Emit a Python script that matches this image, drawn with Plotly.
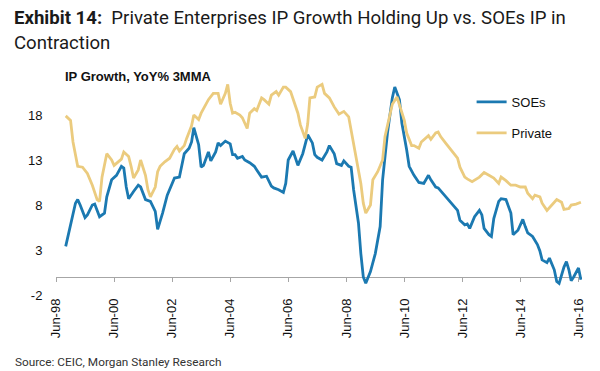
import plotly.graph_objects as go

# ---- data ----
soe_dates = ["1998-10","1998-12","1999-02","1999-03","1999-04","1999-06","1999-07","1999-09","1999-10","1999-11",
             "1999-12","2000-02","2000-03","2000-05","2000-07","2000-09","2000-10","2000-11","2000-12","2001-02",
             "2001-04","2001-05","2001-06","2001-07","2001-09","2001-11","2001-12","2002-02","2002-04","2002-06",
             "2002-07","2002-09","2002-10","2002-11","2003-01","2003-02","2003-03","2003-05","2003-06","2003-07",
             "2003-09","2003-10","2003-12","2004-01","2004-02","2004-04","2004-06","2004-07","2004-08","2004-09",
             "2004-11","2004-12","2005-02","2005-04","2005-05","2005-07","2005-09","2005-11","2005-12","2006-02",
             "2006-04","2006-05","2006-06","2006-08","2006-09","2006-10","2006-12","2007-01","2007-02","2007-04",
             "2007-05","2007-06","2007-08","2007-10","2007-11","2008-01","2008-02","2008-04","2008-05","2008-07",
             "2008-08","2008-09","2008-11","2008-12","2009-01","2009-02","2009-04","2009-06","2009-08","2009-09",
             "2009-11","2010-01","2010-02","2010-04","2010-05","2010-07","2010-08","2010-10","2010-12","2011-02",
             "2011-04","2011-05","2011-07","2011-08","2011-10","2011-12","2012-02","2012-04","2012-05","2012-07",
             "2012-08","2012-09","2012-11","2013-01","2013-02","2013-03","2013-05","2013-06","2013-07","2013-09",
             "2013-10","2013-12","2014-02","2014-03","2014-05","2014-07","2014-08","2014-09","2014-11","2015-01",
             "2015-02","2015-03","2015-05","2015-06","2015-08","2015-09","2015-10","2015-12","2016-01","2016-02",
             "2016-03","2016-04","2016-06","2016-07"]
soe_values = [3.4, 5.8, 8.2, 8.6, 8.0, 6.6, 6.9, 8.0, 8.1, 7.4,
              6.7, 7.1, 8.9, 10.8, 11.3, 12.3, 12.1, 10.0, 8.7, 9.5,
              10.2, 10.0, 9.2, 8.6, 8.4, 7.3, 5.3, 7.1, 9.1, 10.4,
              11.0, 11.1, 12.3, 13.7, 14.3, 15.0, 16.6, 14.7, 12.2, 12.4,
              13.9, 12.9, 13.9, 14.9, 14.6, 15.1, 14.8, 13.6, 13.6, 13.2,
              13.4, 13.0, 12.7, 12.3, 11.9, 11.1, 11.2, 10.1, 9.9, 9.7,
              9.4, 10.4, 13.0, 14.0, 13.2, 12.4, 13.7, 14.9, 15.8, 14.9,
              13.6, 13.3, 13.0, 13.9, 14.6, 13.7, 12.6, 12.4, 12.9, 12.3,
              12.2, 9.7, 6.0, 2.6, 0.0, -0.7, 0.6, 2.6, 5.6, 10.8,
              16.0, 19.9, 21.1, 19.7, 17.1, 14.1, 12.3, 11.3, 10.5, 10.4,
              11.3, 10.8, 10.0, 9.9, 9.3, 8.6, 8.0, 7.4, 6.3, 5.8,
              5.9, 5.4, 6.7, 7.4, 6.9, 5.4, 4.7, 4.5, 6.5, 8.4,
              8.7, 8.6, 7.1, 4.7, 5.2, 6.4, 5.6, 4.9, 4.5, 3.6,
              2.9, 1.9, 1.6, 2.1, 0.8, -0.5, -0.7, 1.1, 1.7, 0.8,
              -0.4, 0.0, 1.0, -0.3]

private_dates = ["1998-10","1998-12","1999-01","1999-02","1999-03","1999-05","1999-07","1999-09","1999-11","1999-12",
                 "2000-01","2000-03","2000-05","2000-06","2000-09","2000-10","2000-12","2001-01","2001-02","2001-04",
                 "2001-05","2001-07","2001-08","2001-09","2001-11","2001-12","2002-01","2002-03","2002-05","2002-07",
                 "2002-08","2002-09","2002-11","2002-12","2003-02","2003-03","2003-05","2003-06","2003-08","2003-09",
                 "2003-11","2004-01","2004-02","2004-04","2004-05","2004-06","2004-07","2004-08","2004-10","2004-11",
                 "2005-01","2005-02","2005-04","2005-05","2005-07","2005-08","2005-10","2005-11","2006-01","2006-02",
                 "2006-04","2006-05","2006-07","2006-08","2006-10","2006-11","2007-01","2007-02","2007-03","2007-05",
                 "2007-06","2007-08","2007-09","2007-11","2008-01","2008-03","2008-05","2008-07","2008-08","2008-10",
                 "2008-12","2009-01","2009-02","2009-04","2009-05","2009-07","2009-09","2009-10","2009-12","2010-01",
                 "2010-03","2010-04","2010-06","2010-07","2010-09","2010-10","2010-12","2011-01","2011-04","2011-05",
                 "2011-07","2011-08","2011-09","2011-11","2012-02","2012-04","2012-05","2012-07","2012-08","2012-10",
                 "2013-01","2013-03","2013-05","2013-07","2013-09","2013-10","2013-12","2014-02","2014-04","2014-06",
                 "2014-08","2014-09","2014-11","2014-12","2015-02","2015-03","2015-05","2015-07","2015-09","2015-11",
                 "2015-12","2016-02","2016-03","2016-05","2016-07"]
private_values = [17.9, 17.4, 15.0, 13.6, 12.3, 12.2, 11.5, 10.2, 8.6, 8.4,
                  11.1, 13.7, 13.0, 12.4, 13.1, 13.9, 13.4, 12.3, 11.0, 11.9,
                  13.0, 11.3, 9.7, 8.9, 10.0, 11.7, 12.3, 12.8, 13.2, 14.2,
                  14.5, 14.0, 14.6, 15.4, 16.8, 18.0, 17.5, 18.2, 19.2, 19.7,
                  20.4, 20.4, 19.2, 20.4, 21.4, 19.3, 18.2, 18.3, 18.0, 17.7,
                  16.5, 18.2, 18.7, 18.5, 19.9, 19.7, 19.2, 20.2, 20.6, 20.2,
                  21.1, 21.1, 20.6, 19.7, 18.2, 16.9, 15.4, 17.0, 19.9, 20.0,
                  21.1, 21.4, 20.4, 19.9, 18.9, 18.1, 18.4, 17.8, 16.3, 13.7,
                  10.4, 8.2, 7.1, 8.0, 10.8, 11.7, 13.0, 15.6, 17.8, 19.2,
                  20.0, 19.1, 17.4, 16.0, 14.6, 14.6, 14.3, 15.0, 15.7, 15.3,
                  16.0, 16.1, 15.6, 14.9, 13.9, 13.2, 12.2, 11.1, 10.9, 10.6,
                  11.1, 11.6, 11.3, 11.0, 10.4, 11.1, 10.7, 10.2, 10.2, 10.0,
                  10.0, 9.3, 8.7, 9.1, 8.9, 8.2, 7.4, 8.0, 8.6, 8.3,
                  7.5, 7.6, 8.0, 8.1, 8.3]

tick_dates = ["1998-06-01","2000-06-01","2002-06-01","2004-06-01","2006-06-01",
              "2008-06-01","2010-06-01","2012-06-01","2014-06-01","2016-06-01"]
tick_labels = ["Jun-98","Jun-00","Jun-02","Jun-04","Jun-06",
               "Jun-08","Jun-10","Jun-12","Jun-14","Jun-16"]
y_ticks = [-2, 3, 8, 13, 18]
y_tick_labels = ["-2", "3", "8", "13", "18"]

# ---- geometry ----
W, H = 600, 371
L, R, T, B = 56, 17.5, 79, 76
Y_RANGE = [-2, 22]
X_RANGE = ["1998-06-01", "2016-07-15"]
pw = W - L - R
ph = H - T - B

def px(x):
    return (x - L) / pw

def py(y):
    return (H - B - y) / ph

BLUE = "#1b79b1"
GOLD = "#ebcb7e"

fig = go.Figure()
fig.add_trace(go.Scatter(x=soe_dates, y=soe_values, name="SOEs", mode="lines",
                         line=dict(color=BLUE, width=2.8), legendgroup="a"))
fig.add_trace(go.Scatter(x=private_dates, y=private_values, name="Private", mode="lines",
                         line=dict(color=GOLD, width=2.8), legendgroup="b"))

axis_gray = "#a6a6a6"
zero_pos = (0 - Y_RANGE[0]) / (Y_RANGE[1] - Y_RANGE[0])

fig.update_layout(
    width=W, height=H,
    margin=dict(l=L, r=R, t=T, b=B, pad=0),
    paper_bgcolor="white", plot_bgcolor="white",
    font=dict(family="Arial, Liberation Sans, sans-serif", color="#111111", size=13),
    xaxis=dict(
        type="date", range=X_RANGE,
        tickmode="array", tickvals=tick_dates, ticktext=tick_labels,
        tickangle=-90, ticks="", showline=False, showgrid=False, zeroline=False,
        tickfont=dict(size=13, color="#111111"),
    ),
    xaxis2=dict(
        type="date", range=X_RANGE, overlaying="x", anchor="free", position=zero_pos,
        side="bottom", tickmode="array", tickvals=tick_dates, showticklabels=False,
        ticks="outside", ticklen=4, tickcolor=axis_gray, tickwidth=1,
        showline=False, showgrid=False, zeroline=False,
    ),
    yaxis=dict(
        range=Y_RANGE, tickmode="array", tickvals=y_ticks, ticktext=y_tick_labels,
        ticks="outside", ticklen=10, tickcolor="rgba(0,0,0,0)",
        showline=False, showgrid=False,
        zeroline=True, zerolinecolor=axis_gray, zerolinewidth=1,
        tickfont=dict(size=13, color="#111111"),
    ),
    legend=dict(
        x=px(472), y=py(87), xanchor="left", yanchor="top",
        bgcolor="rgba(0,0,0,0)", font=dict(size=13, color="#111111"),
        traceorder="grouped", tracegroupgap=11,
    ),
    showlegend=True,
)

# invisible trace so xaxis2 is drawn
fig.add_trace(go.Scatter(x=[X_RANGE[0]], y=[None], xaxis="x2", showlegend=False,
                         hoverinfo="skip", mode="lines"))

title_font = dict(family="Roboto, sans-serif", size=18.6, color="#1a1a1a")
fig.add_annotation(text="<b>Exhibit 14:</b>\u00a0 Private Enterprises IP Growth Holding Up vs. SOEs IP in",
                   xref="paper", yref="paper", x=px(12), y=py(18), xanchor="left", yanchor="middle",
                   showarrow=False, font=title_font)
fig.add_annotation(text="Contraction",
                   xref="paper", yref="paper", x=px(12), y=py(43), xanchor="left", yanchor="middle",
                   showarrow=False, font=title_font)
fig.add_annotation(text="<b>IP Growth, YoY% 3MMA</b>", xref="paper", yref="paper",
                   x=px(63), y=py(77), xanchor="left", yanchor="middle", showarrow=False,
                   font=dict(size=13, color="#111111", family="Arial, Liberation Sans, sans-serif"))
fig.add_annotation(text="Source: CEIC, Morgan Stanley Research", xref="paper", yref="paper",
                   x=px(13), y=py(362), xanchor="left", yanchor="middle", showarrow=False,
                   font=dict(size=11.8, color="#333333", family="Roboto, sans-serif"))

fig.write_html("out.html", config={"displayModeBar": False},
               post_script="document.body.style.margin='0';")
